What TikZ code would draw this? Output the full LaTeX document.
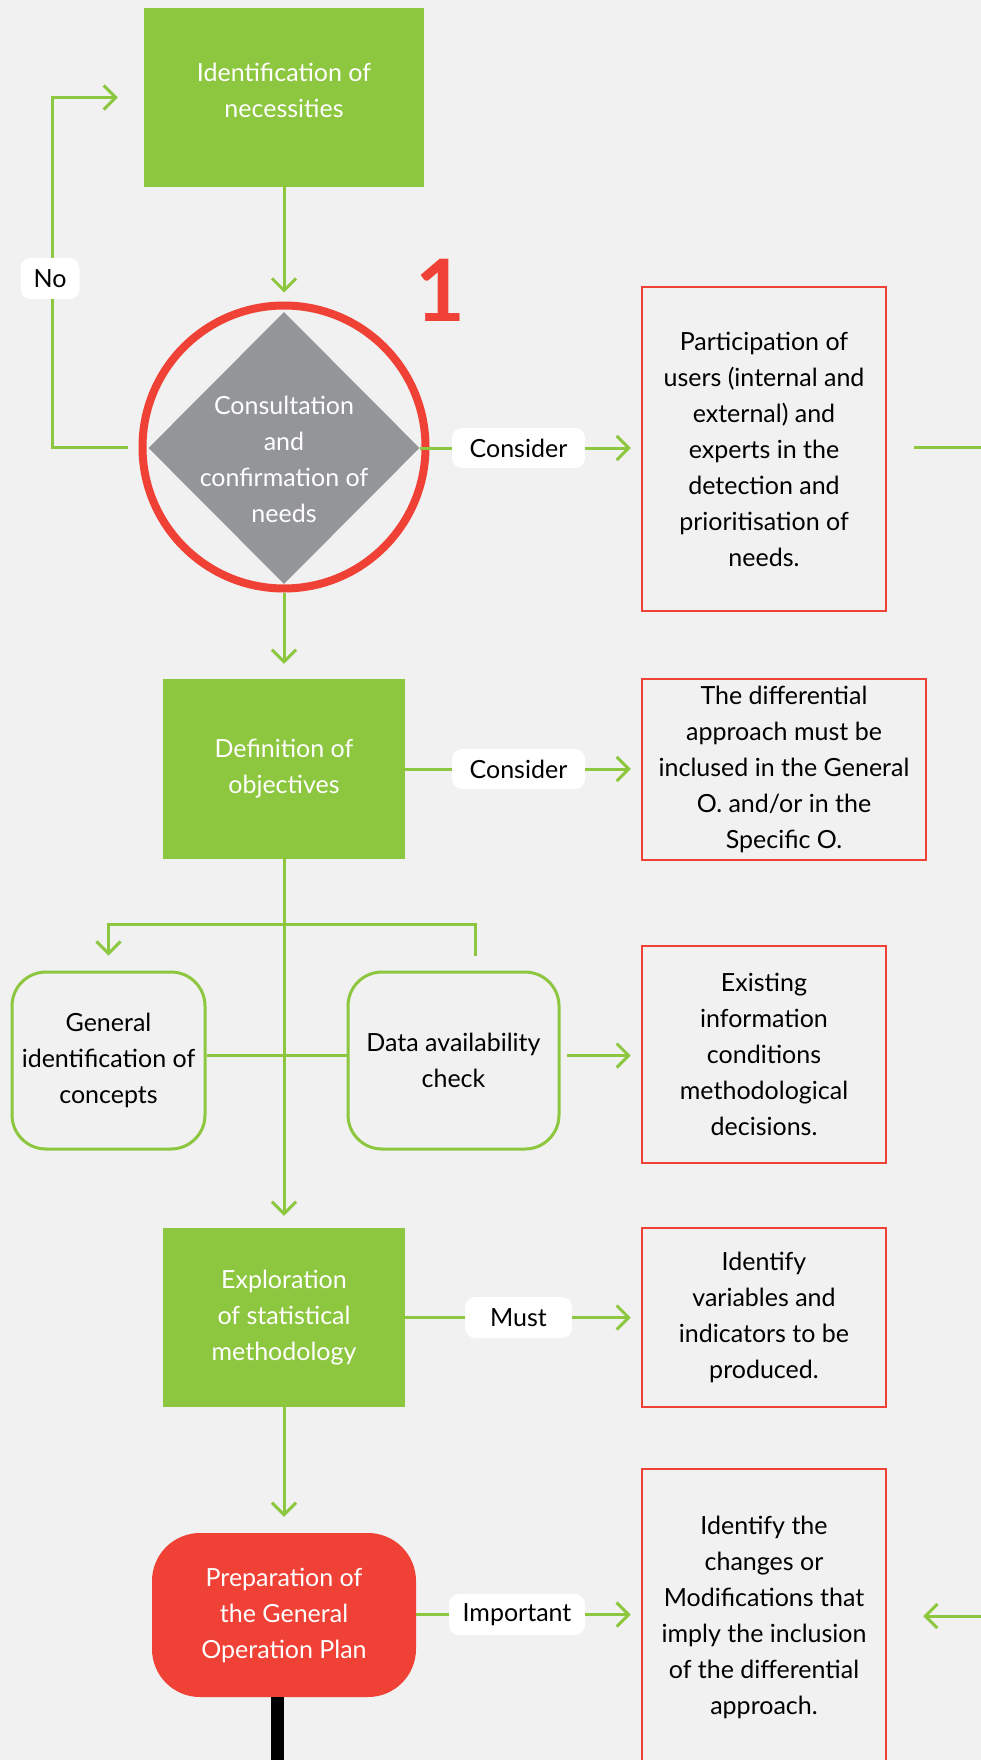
\documentclass[tikz,border=0pt]{standalone}
\usepackage{fontspec}
\setmainfont{Lato}
\usetikzlibrary{shapes.geometric,arrows.meta}
\definecolor{leaf}{HTML}{8DC63F}
\definecolor{alert}{HTML}{EF4136}
\definecolor{slate}{HTML}{939598}
\definecolor{paper}{HTML}{F1F1F1}

\begin{document}
\begin{tikzpicture}[x=1pt,y=-1pt,
  body/.style={font=\fontsize{25}{36}\selectfont, align=center, inner sep=0pt},
  whitetxt/.style={body, text=white},
  greenbox/.style={fill=leaf, inner sep=0pt},
  redbox/.style={body, draw=alert, line width=2.5pt},
  softbox/.style={body, draw=leaf, line width=3pt, rounded corners=34pt},
  planbox/.style={body, text=white, fill=alert, rounded corners=48pt},
  tag/.style={body, fill=white, rounded corners=10pt},
  ln/.style={draw=leaf, line width=3pt},
  arr/.style={ln, -{Straight Barb[length=12pt,width=24pt]}},
]
% canvas
\fill[paper] (0,0) rectangle (981,1760);
\useasboundingbox (0,0) rectangle (981,1760);
\clip (0,0) rectangle (981,1760);

% main column
\node[greenbox, minimum width=280, minimum height=179] (idn) at (284,97.5) {};
\node[whitetxt] (idn-t) at (284,90) {Identification of\\necessities};

\node[circle, draw=alert, line width=8pt, minimum size=283, inner sep=0pt] (cons) at (284,447) {};
\node[diamond, fill=slate, minimum width=271, minimum height=272, inner sep=0pt] (dia) at (284,448) {};
\node[whitetxt] (dia-t) at (284,459) {Consultation\\and\\confirmation of\\needs};
\node[font=\fontsize{86}{86}\selectfont\bfseries, text=alert, anchor=base, inner sep=0pt] (num) at (440,321) {1};

\node[greenbox, whitetxt, minimum width=242, minimum height=180] (def) at (284,769) {Definition of\\objectives};

\node[softbox, minimum width=193, minimum height=177] (gen) at (108.5,1060.5) {General\\identification of\\concepts};
\node[softbox, minimum width=211, minimum height=177] (data) at (453.5,1060.5) {Data availability\\check};

\node[greenbox, whitetxt, minimum width=242, minimum height=179] (expl) at (284,1317.5) {Exploration\\of statistical\\methodology};

\node[planbox, minimum width=264, minimum height=164] (prep) at (284,1615) {Preparation of\\the General\\Operation Plan};

% notes on the right
\node[redbox, minimum width=244, minimum height=324] (p1) at (764,449) {Participation of\\users (internal and\\external) and\\experts in the\\detection and\\prioritisation of\\needs.};
\node[redbox, minimum width=284, minimum height=181] (p2) at (784,769.5) {The differential\\approach must be\\inclused in the General\\O. and/or in the\\Specific O.};
\node[redbox, minimum width=244, minimum height=217] (p3) at (764,1054.5) {Existing\\information\\conditions\\methodological\\decisions.};
\node[redbox, minimum width=244, minimum height=179] (p4) at (764,1317.5) {Identify\\variables and\\indicators to be\\produced.};
\node[redbox, minimum width=244, minimum height=296] (p5) at (764,1617) {Identify the\\changes or\\Modifications that\\imply the inclusion\\of the differential\\approach.};

% labels on the connectors
\node[tag, minimum width=133, minimum height=40] (c1) at (518.5,448) {Consider};
\node[tag, minimum width=133, minimum height=40] (c2) at (518.5,769) {Consider};
\node[tag, minimum width=107, minimum height=41] (must) at (518.5,1317.5) {Must};
\node[tag, minimum width=136, minimum height=41] (imp) at (517,1614.5) {Important};

% connectors
\draw[arr, shorten >=9pt] (idn.south) -- (cons.north);
\draw[arr] ([xshift=-11pt]cons.west) -- ++(-75,0) |- ([xshift=-26pt]idn.west);
\node[tag, minimum width=59, minimum height=41] (no) at (50,278.5) {No};

\draw[ln] (dia.east) -- (c1.west);
\draw[arr, shorten >=10pt] (c1.east) -- (c1.east -| p1.west);
\coordinate (rout) at (981,447);
\draw[ln] ([xshift=27pt]p1.east |- rout) -- (rout);

\draw[arr, shorten >=15pt] (cons.south) -- (def.north);
\draw[ln] (def.east) -- (c2.west);
\draw[arr, shorten >=10pt] (c2.east) -- (c2.east -| p2.west);

\coordinate (brY) at (0,924);
\coordinate (br) at (def.south |- brY);
\draw[arr] (br) -| ([yshift=15pt]gen.north);
\draw[ln] (br) -| ([xshift=21.5pt,yshift=15pt]data.north);
\draw[ln] ([yshift=5pt]gen.east) -- ([yshift=5pt]data.west);
\draw[arr, shorten >=12pt] (def.south) -- (expl.north);
\coordinate (dy) at ([yshift=5pt]data.east);
\draw[arr, shorten >=10pt] ([xshift=6pt]dy) -- (dy -| p3.west);

\draw[ln] (expl.east) -- (must.west);
\draw[arr, shorten >=10pt] (must.east) -- (must.east -| p4.west);
\draw[arr, shorten >=16pt] (expl.south) -- (prep.north);

\draw[ln] (prep.east |- imp.west) -- (imp.west);
\draw[arr, shorten >=10pt] (imp.east) -- (imp.east -| p5.west);
\coordinate (rin) at (981,1616);
\draw[arr] (rin) -- ([xshift=36pt]p5.east |- rin);

\draw[line width=13pt] ([xshift=-6.5pt]prep.south) -- ++(0,70);
\end{tikzpicture}
\end{document}
